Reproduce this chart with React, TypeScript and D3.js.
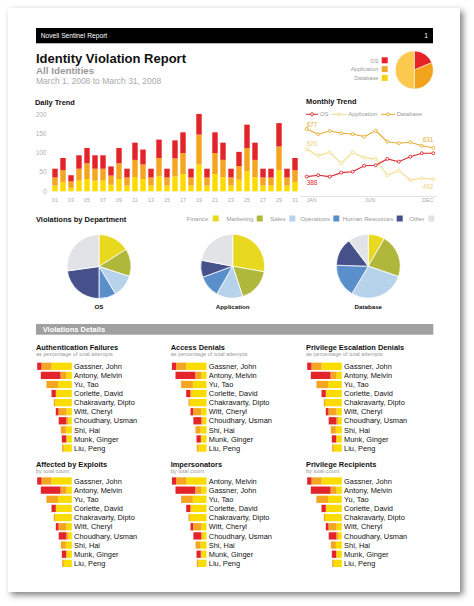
import React from "react";
import * as d3 from "d3";

// ---------- data ----------
const days = d3.range(1, 32).map((d) => String(d).padStart(2, "0"));
const dbDaily = [15, 24, 9, 28, 32, 28, 28, 17, 32, 15, 37, 32, 15, 39, 15, 39, 45, 15, 70, 15, 45, 37, 15, 30, 52, 37, 15, 15, 55, 15, 24];
const appDaily = [21, 31, 17, 31, 41, 31, 31, 24, 41, 21, 45, 38, 21, 48, 21, 47, 55, 21, 78, 21, 55, 45, 21, 36, 61, 45, 21, 21, 62, 21, 31];
const osDaily = [23, 32, 16, 35, 40, 35, 35, 24, 40, 23, 45, 39, 23, 48, 23, 47, 54, 23, 54, 23, 54, 45, 23, 37, 61, 45, 23, 23, 61, 23, 32];
const dailyTicks = [0, 50, 100, 150, 200];

const months = ["JAN", "FEB", "MAR", "APR", "MAY", "JUN", "JUL", "AUG", "SEP", "OCT", "NOV", "DEC"];
const monthTickLabels = ["JAN", "JUN", "DEC"];
const dbMonthly = [673, 644, 662, 649, 645, 631, 663, 603, 595, 600, 581, 570];
const appMonthly = [562, 527, 545, 485, 545, 516, 509, 420, 445, 394, 403, 398];
const osMonthly = [412, 420, 412, 434, 439, 472, 474, 509, 494, 521, 540, 540];
const dbEndLabels = ["677", "631"];
const appEndLabels = ["526", "492"];
const osEndLabels = ["388"];

const sources = ["OS", "Application", "Database"];
const sourceShare = [18.6, 31.4, 50];

const departments = ["Finance", "Marketing", "Sales", "Operations", "Human Resources", "Other"];
const osDept = [16, 14, 11.4, 8.6, 22.8, 27.2];
const appDept = [27.8, 17.1, 13.4, 11.1, 8.6, 22];
const dbDept = [8.3, 21.9, 28.3, 16.9, 14.2, 10.3];

const namesA = ["Gassner, John", "Antony, Melvin", "Yu, Tao", "Corlette, David", "Chakravarty, Dipto", "Witt, Cheryl", "Choudhary, Usman", "Shi, Hai", "Munk, Ginger", "Liu, Peng"];
const namesB = ["Antony, Melvin", "Gassner, John", "Yu, Tao", "Corlette, David", "Chakravarty, Dipto", "Witt, Cheryl", "Choudhary, Usman", "Shi, Hai", "Munk, Ginger", "Liu, Peng"];
const detailOS = [4.3, 19.7, 0, 4.3, 0, 2.7, 7.7, 0, 4.3, 0];
const detailApp = [10, 6, 11.7, 0, 1.3, 8, 1.7, 5, 0.7, 1.7];
const detailDB = [20.3, 5.3, 13.7, 16, 16.7, 5.3, 3.7, 6, 5, 8];

const panelTitlesTop = ["Authentication Failures", "Access Denials", "Privilege Escalation Denials"];
const panelTitlesBottom = ["Affected by Exploits", "Impersonators", "Privilege Recipients"];

// ---------- styles ----------
const FONT = "Arial, 'Liberation Sans', Helvetica, sans-serif";
const RED = "#e3242b";
const ORANGE = "#f4a623";
const YELLOW = "#fbdc00";
const deptColors = ["#e8d820", "#afb83a", "#b7d3ec", "#5b8fcb", "#46518c", "#e1e3e7"];

function DailyTrend() {
  const x = d3.scaleBand<string>().domain(days).range([51, 299]).paddingInner(0.32).paddingOuter(0.16);
  const y = d3.scaleLinear().domain([0, 200]).range([191.3, 114.7]);
  const stack = d3.stack<number>().keys(["db", "app", "os"]).value((i, k) =>
    k === "db" ? dbDaily[i] : k === "app" ? appDaily[i] : osDaily[i]
  );
  const series = stack(d3.range(days.length));
  const colors = [YELLOW, ORANGE, RED];
  return (
    <g>
      <text x={35} y={104.5} fontSize={7.4} fontWeight="bold" fill="#111">Daily Trend</text>
      {dailyTicks.map((t) => (
        <text key={t} x={46.5} y={y(t) + 2.3} fontSize={6.5} fill="#b0b0b0" textAnchor="end">{t}</text>
      ))}
      {series.map((s, si) =>
        s.map((seg, i) => (
          <rect key={si + "-" + i} x={x(days[i])} width={x.bandwidth()} y={y(seg[1])} height={y(seg[0]) - y(seg[1])} fill={colors[si]} />
        ))
      )}
      {days.map((d, i) =>
        i % 2 === 0 ? (
          <text key={d} x={(x(d) as number) + x.bandwidth() / 2} y={201.5} fontSize={5.2} fill="#aaa" textAnchor="middle">{d}</text>
        ) : null
      )}
    </g>
  );
}

function MonthlyTrend() {
  const x = d3.scaleLinear().domain([0, months.length - 1]).range([306.7, 433.3]);
  const y = d3.scaleLinear().domain([350, 700]).range([188, 124]);
  const line = d3.line<number>().x((_, i) => x(i)).y((v) => y(v));
  const lines = [
    { vals: dbMonthly, color: "#e4ad2e", label: "Database" },
    { vals: appMonthly, color: "#f5da86", label: "Application" },
    { vals: osMonthly, color: "#d9262c", label: "OS" },
  ];
  const legend = [
    { color: "#d9262c", label: "OS", x0: 306, x1: 318, tx: 320 },
    { color: "#f5da86", label: "Application", x0: 331.5, x1: 346.5, tx: 348.3 },
    { color: "#e4ad2e", label: "Database", x0: 381, x1: 395, tx: 396.7 },
  ];
  return (
    <g>
      <text x={306} y={103.5} fontSize={7.4} fontWeight="bold" fill="#111">Monthly Trend</text>
      {legend.map((l) => (
        <g key={l.label}>
          <line x1={l.x0} x2={l.x1} y1={114.3} y2={114.3} stroke={l.color} strokeWidth={1} />
          <circle cx={(l.x0 + l.x1) / 2} cy={114.3} r={1.5} fill="#fff" stroke={l.color} strokeWidth={0.9} />
          <text x={l.tx} y={116.4} fontSize={5.9} fill="#999">{l.label}</text>
        </g>
      ))}
      <line x1={300} x2={436} y1={196.5} y2={196.5} stroke="#e2e2e2" strokeWidth={1} />
      {lines.map((l) => (
        <g key={l.label}>
          <path d={line(l.vals) as string} fill="none" stroke={l.color} strokeWidth={1.1} />
          {l.vals.map((v, i) => (
            <circle key={i} cx={x(i)} cy={y(v)} r={1.5} fill="#fff" stroke={l.color} strokeWidth={0.9} />
          ))}
        </g>
      ))}
      <text x={x(0)} y={126.5} fontSize={6.3} fill="#e4ad2e">{dbEndLabels[0]}</text>
      <text x={x(11)} y={142.3} fontSize={6.3} fill="#e4ad2e" textAnchor="end">{dbEndLabels[1]}</text>
      <text x={x(0)} y={145.8} fontSize={6.3} fill="#f0d27a">{appEndLabels[0]}</text>
      <text x={x(11)} y={189.2} fontSize={6.3} fill="#f0d27a" textAnchor="end">{appEndLabels[1]}</text>
      <text x={x(0)} y={185} fontSize={6.3} fill="#d9262c">{osEndLabels[0]}</text>
      <text x={x(0)} y={202} fontSize={5.3} fill="#aaa">{monthTickLabels[0]}</text>
      <text x={x(5.5)} y={202} fontSize={5.3} fill="#aaa" textAnchor="middle">{monthTickLabels[1]}</text>
      <text x={x(11)} y={202} fontSize={5.3} fill="#aaa" textAnchor="end">{monthTickLabels[2]}</text>
    </g>
  );
}

function DeptPie({ cx, cy, values, label }: { cx: number; cy: number; values: number[]; label: string }) {
  const arcs = d3.pie<number>().sort(null).value((d) => d)(values);
  const arc = d3.arc<d3.PieArcDatum<number>>().innerRadius(0).outerRadius(32);
  return (
    <g transform={`translate(${cx},${cy})`}>
      {arcs.map((a, i) => (
        <path key={i} d={arc(a) as string} fill={deptColors[i]} stroke="#fff" strokeWidth={0.8} />
      ))}
      <text x={0} y={42.5} fontSize={6.2} fontWeight="bold" fill="#111" textAnchor="middle">{label}</text>
    </g>
  );
}

function Departments() {
  const legendPos = [
    { tx: 208.3, sx: 212.7 },
    { tx: 253.3, sx: 256.7 },
    { tx: 285.5, sx: 289.3 },
    { tx: 330, sx: 333.3 },
    { tx: 393.3, sx: 396.7 },
    { tx: 424.5, sx: 428.3 },
  ];
  return (
    <g>
      <text x={36} y={221.5} fontSize={7.5} fontWeight="bold" fill="#111">Violations by Department</text>
      {departments.map((d, i) => (
        <g key={d}>
          <text x={legendPos[i].tx} y={221} fontSize={6.1} fill="#999" textAnchor="end">{d}</text>
          <rect x={legendPos[i].sx} y={215.5} width={6} height={6} fill={deptColors[i]} />
        </g>
      ))}
      <DeptPie cx={99} cy={266.5} values={osDept} label="OS" />
      <DeptPie cx={232.7} cy={266.2} values={appDept} label="Application" />
      <DeptPie cx={368.3} cy={266.2} values={dbDept} label="Database" />
    </g>
  );
}

function DetailPanel({ x0, titleY, subY, rowY0, step, title, subtitle, names }: {
  x0: number; titleY: number; subY: number; rowY0: number; step: number; title: string; subtitle: string; names: string[];
}) {
  const w = d3.scaleLinear().domain([0, 40]).range([0, 40]);
  const right = x0 + 35.8;
  return (
    <g>
      <text x={x0} y={titleY} fontSize={7.4} fontWeight="bold" fill="#111">{title}</text>
      <text x={x0} y={subY} fontSize={5.6} fill="#999">{subtitle}</text>
      {names.map((n, i) => {
        const cy = rowY0 + i * step;
        const yv = w(detailDB[i]);
        const av = w(detailApp[i]);
        const ov = w(detailOS[i]);
        return (
          <g key={n}>
            <rect x={right - yv} y={cy - 3.65} width={yv} height={7.3} fill={YELLOW} />
            <rect x={right - yv - av} y={cy - 3.65} width={av} height={7.3} fill={ORANGE} />
            <rect x={right - yv - av - ov} y={cy - 3.65} width={ov} height={7.3} fill={RED} />
            <text x={right + 2.3} y={cy + 2.7} fontSize={7.4} fill="#111">{n}</text>
          </g>
        );
      })}
    </g>
  );
}

export default function App() {
  const pieArcs = d3.pie<number>().sort(null).value((d) => d)(sourceShare);
  const pieArc = d3.arc<d3.PieArcDatum<number>>().innerRadius(0).outerRadius(19);
  const pieColors = ["#e52228", "#f2a31c", "#fcc84e"];
  const legendColors = ["#e8202a", "#f0a830", "#f8d010"];
  const cols = [36, 170.7, 306];
  return (
    <svg width={474} height={606} style={{ position: "absolute", left: 0, top: 0 }} fontFamily={FONT}>
      <defs>
        <filter id="shadow" x="-10%" y="-10%" width="120%" height="120%">
          <feDropShadow dx={3} dy={3} stdDeviation={3.2} floodColor="#000" floodOpacity={0.5} />
        </filter>
      </defs>
      <rect x={0} y={0} width={474} height={606} fill="#fff" />
      <rect x={8} y={8} width={452} height={584} fill="#fff" filter="url(#shadow)" />

      {/* header */}
      <rect x={36} y={28} width={397} height={15.3} fill="#000" />
      <text x={40.7} y={38.2} fontSize={6.7} fill="#fff">Novell Sentinel Report</text>
      <text x={428} y={38.2} fontSize={6.7} fill="#fff" textAnchor="end">1</text>
      <text x={36} y={62.7} fontSize={13} fontWeight="bold" fill="#111">Identity Violation Report</text>
      <text x={36} y={74.2} fontSize={9.8} fontWeight="bold" fill="#999">All Identities</text>
      <text x={36} y={84.3} fontSize={8.5} fill="#aaa">March 1, 2008 to March 31, 2008</text>

      {sources.map((s, i) => (
        <g key={s}>
          <text x={378.5} y={62.5 + i * 8.8} fontSize={5.7} fill="#999" textAnchor="end">{s}</text>
          <rect x={381.7} y={57.3 + i * 8.8} width={6} height={6} fill={legendColors[i]} />
        </g>
      ))}
      <g transform="translate(414.3,70)">
        {pieArcs.map((a, i) => (
          <path key={i} d={pieArc(a) as string} fill={pieColors[i]} stroke="#fff" strokeWidth={0.5} />
        ))}
      </g>

      <DailyTrend />
      <MonthlyTrend />
      <Departments />

      {/* details */}
      <rect x={36} y={324} width={397.3} height={10.7} fill="#a0a0a0" />
      <text x={42.7} y={332} fontSize={7.5} fontWeight="bold" fill="#fff">Violations Details</text>
      {panelTitlesTop.map((t, i) => (
        <DetailPanel key={t} x0={cols[i]} titleY={350.3} subY={356.2} rowY0={366.3} step={9.08} title={t} subtitle="as percentage of total attempts" names={namesA} />
      ))}
      {panelTitlesBottom.map((t, i) => (
        <DetailPanel key={t} x0={cols[i]} titleY={467.3} subY={473.2} rowY0={481} step={9.15} title={t} subtitle="by total count" names={i === 1 ? namesB : namesA} />
      ))}
    </svg>
  );
}
